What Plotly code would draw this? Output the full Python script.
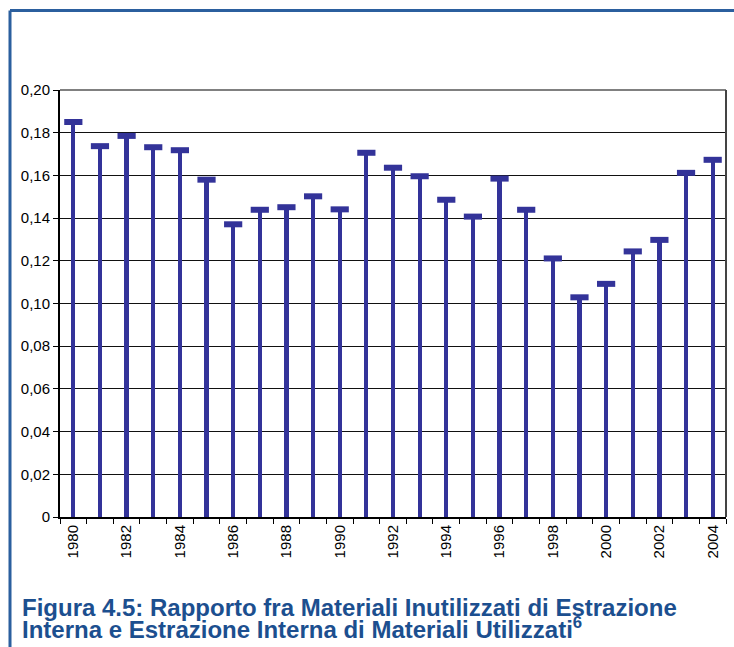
import plotly.graph_objects as go

years = list(range(1980, 2005))
ratio = [0.185, 0.1737, 0.1785, 0.1732, 0.1718, 0.158, 0.1371, 0.1439, 0.1451,
         0.1502, 0.1441, 0.1706, 0.1636, 0.1596, 0.1486, 0.1407, 0.1585, 0.1439,
         0.1211, 0.1029, 0.1092, 0.1244, 0.1298, 0.1612, 0.1673]
y_tickvals = [0, 0.02, 0.04, 0.06, 0.08, 0.10, 0.12, 0.14, 0.16, 0.18, 0.20]
y_ticktext = ["0", "0,02", "0,04", "0,06", "0,08", "0,10", "0,12", "0,14", "0,16", "0,18", "0,20"]
x_ticktext = [str(y) if y % 2 == 0 else "" for y in years]
caption1 = "Figura 4.5: Rapporto fra Materiali Inutilizzati di Estrazione"
caption2 = "Interna e Estrazione Interna di Materiali Utilizzati<sup>6</sup>"

NAVY = "#333399"
BLUE = "#1c4f8f"

fig = go.Figure()
fig.add_trace(go.Bar(x=years, y=ratio, width=0.16, marker=dict(color=NAVY, line=dict(width=0)),
                     hoverinfo="skip"))
fig.add_trace(go.Scatter(x=years, y=ratio, mode="markers",
                         marker=dict(symbol="line-ew", size=13, color=NAVY,
                                     line=dict(color=NAVY, width=6)),
                         hoverinfo="skip", cliponaxis=False))

fig.update_layout(
    width=734, height=647,
    margin=dict(l=60, r=8, t=90, b=130),
    paper_bgcolor="white", plot_bgcolor="white",
    showlegend=False,
    font=dict(family="Liberation Sans, Arial, sans-serif", color="black", size=15),
    xaxis=dict(type="category", range=[-0.5, len(years) - 0.5], tickmode="array",
               tickvals=years, ticktext=x_ticktext, automargin=False,
               tickson="boundaries", ticks="outside", ticklen=5, tickwidth=1, tickcolor="black",
               tickangle=-90, showline=True, linecolor="black", linewidth=2,
               showgrid=False, tickfont=dict(size=15)),
    yaxis=dict(range=[0, 0.2], tickmode="array", tickvals=y_tickvals, ticktext=y_ticktext,
               automargin=False,
               ticks="outside", ticklen=5, tickwidth=1, tickcolor="black",
               showline=True, linecolor="black", linewidth=2,
               showgrid=True, gridcolor="#111111", gridwidth=1.3, zeroline=False,
               tickfont=dict(size=15)),
    bargap=0,
)

# plot-area border (top gray, right dark)
fig.add_shape(type="line", xref="paper", yref="paper", x0=0, x1=1, y0=1, y1=1,
              line=dict(color="#808080", width=2))
fig.add_shape(type="line", xref="paper", yref="paper", x0=1, x1=1, y0=0, y1=1,
              line=dict(color="#444444", width=2))

# outer frame (left and top)
W, H = 666.0, 427.0
fx = (10 - 60) / W
fy_top = (517 - 10.5) / H
fy_bot = (517 - 660) / H
fig.add_shape(type="line", xref="paper", yref="paper", x0=fx, x1=(740 - 60) / W, y0=fy_top, y1=fy_top,
              line=dict(color="#2b5f9e", width=3))
fig.add_shape(type="line", xref="paper", yref="paper", x0=fx, x1=fx, y0=fy_top, y1=fy_bot,
              line=dict(color="#2b5f9e", width=3))

cx = (20 - 60) / W
span = "<span style='font-size:24px'><b>{}</b></span>"
caption = span.format(caption1) + "<br>" + span.format(caption2)
fig.add_annotation(text=caption, xref="paper", yref="paper", align="left",
                   x=cx, y=(517 - 618.5) / H, xanchor="left", yanchor="middle", showarrow=False,
                   font=dict(family="Liberation Sans, Arial, sans-serif", size=17, color=BLUE))

fig.write_html("out.html", config={"displayModeBar": False},
               post_script="document.body.style.margin='0';")
